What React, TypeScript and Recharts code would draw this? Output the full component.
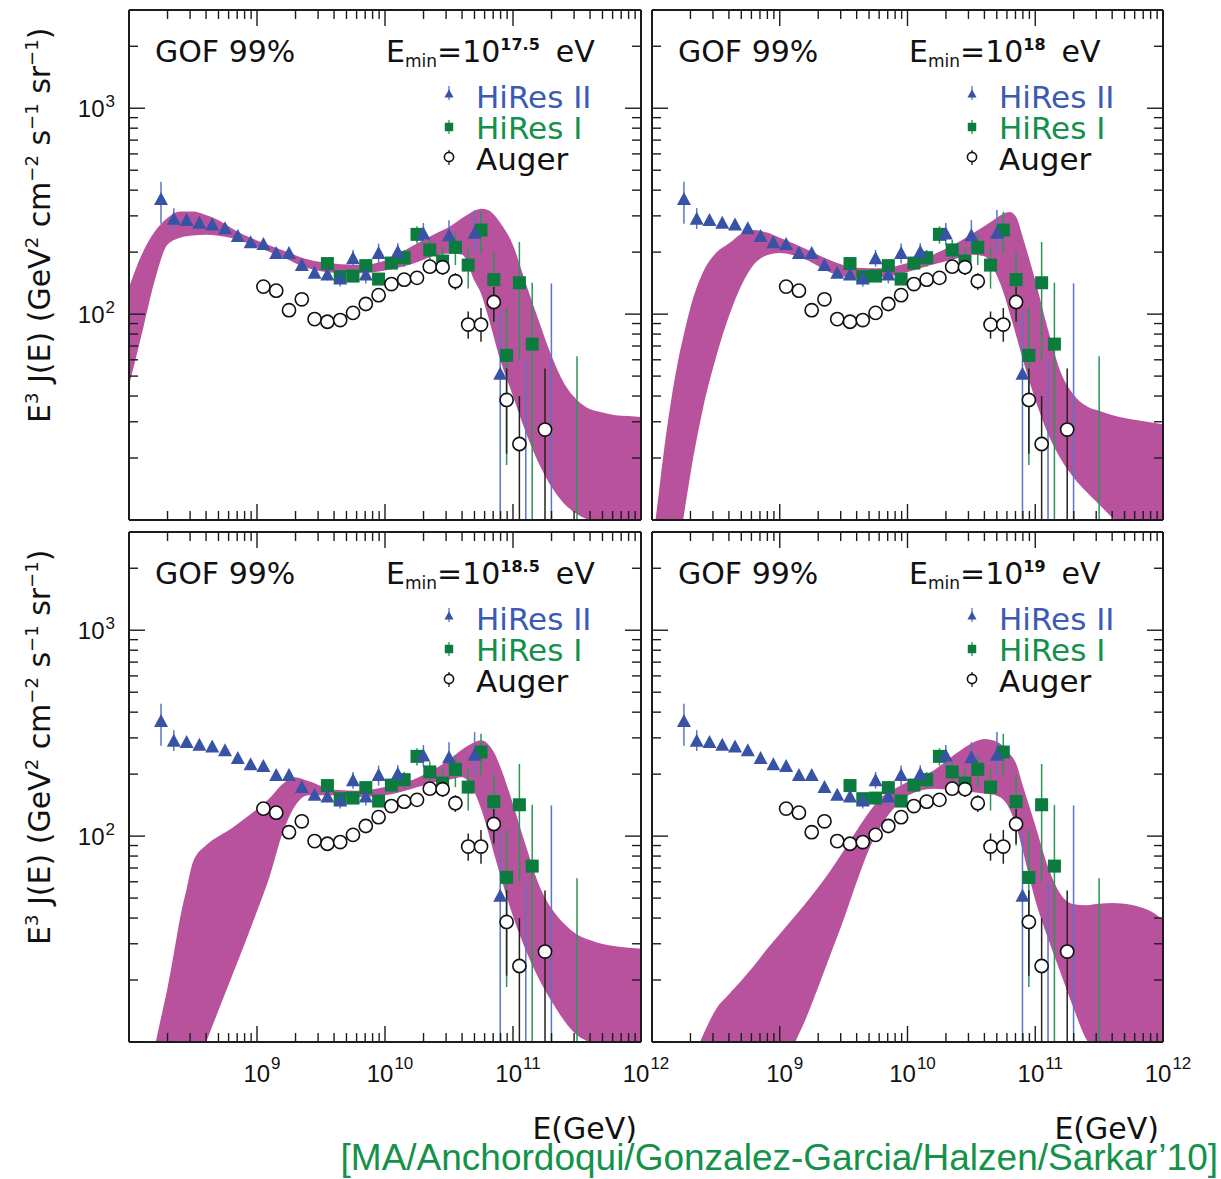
import React from "react";
import { ComposedChart, Area, Scatter, XAxis, YAxis, ErrorBar } from "recharts";

const FONT = "'DejaVu Sans', sans-serif";
const NUM_FONT = "'Liberation Sans', Arial, sans-serif";
const FRAME = "#1c1c1c";
const BAND = "#b8529d";
const BLUE = "#3853a6";
const BLUE_BAR = "#5a74c6";
const BLUE_TEXT = "#3b5bb2";
const GREEN = "#0b7b3e";
const GREEN_BAR = "#2a9656";
const GREEN_TEXT = "#13904a";
const CITE = "#14924a";

// energies are log10(E / GeV); fluxes are E^3 J(E) in GeV^2 cm^-2 s^-1 sr^-1
const hires2Lg = [8.25, 8.35, 8.45, 8.55, 8.65, 8.75, 8.85, 8.95, 9.05, 9.15, 9.25, 9.35, 9.45, 9.55, 9.65, 9.75, 9.85, 9.95, 10.1, 10.3, 10.5, 10.7, 10.9];
const hires2Val = [360, 289, 285, 276, 271, 260, 238, 222, 218, 197, 197, 172, 158, 155, 148, 186, 155, 197, 200, 245, 240, 247, 51];
const hires2Lo = [275, 259, 275, 267, 262, 251, 229, 214, 209, 189, 188, 163, 150, 146, 136, 170, 141, 176, 183, 216, 209, 198, 10];
const hires2Hi = [439, 327, 296, 286, 281, 270, 247, 231, 227, 206, 207, 182, 168, 166, 156, 205, 173, 220, 221, 277, 286, 320, 103];
// bins with the central value below the frame: only the upper bar shows
const hires2BarLg = [11.1, 11.3];
const hires2BarHi = [60, 141];

const hires1Lg = [9.55, 9.65, 9.75, 9.85, 9.95, 10.05, 10.15, 10.25, 10.35, 10.45, 10.55, 10.65, 10.75, 10.85, 10.95, 11.05, 11.15];
const hires1Val = [176, 152, 153, 172, 148, 177, 188, 244, 205, 181, 211, 173, 256, 147, 63, 142, 71.5];
const hires1Lo = [168, 145, 146, 164, 141, 168, 170, 220, 183, 155, 173, 133, 197, 90, 18.5, 60, 10];
const hires1Hi = [185, 160, 161, 181, 156, 187, 205, 267, 229, 212, 247, 212, 314, 200, 107, 224, 142];
const hires1BarLg = [11.5];
const hires1BarHi = [62.5];

const augerLg = [9.05, 9.15, 9.25, 9.35, 9.45, 9.55, 9.65, 9.75, 9.85, 9.95, 10.05, 10.15, 10.25, 10.35, 10.45, 10.55, 10.65, 10.75, 10.85, 10.95, 11.05, 11.25];
const augerVal = [136, 130, 104.5, 118, 94.6, 91.8, 93.6, 101.4, 112, 123.6, 140, 147, 150, 170, 169, 144.5, 89, 89, 114.5, 38.3, 23.4, 27.5];
const augerLo = [133, 127, 102, 115, 92, 89.5, 91, 99, 109, 120, 136, 142, 145, 162, 155, 131, 76, 73.4, 92, 21, 10, 10];
const augerHi = [139, 133, 107, 121, 97, 94, 96, 104, 115, 127, 144, 152, 155, 178, 180, 158, 103, 107, 135.5, 54.5, 40, 54.5];

// 99% GOF bands, one per E_min
const band1Lg = [8.0, 8.1, 8.2, 8.3, 8.4, 8.5, 8.6, 8.7, 8.8, 8.9, 9.0, 9.2, 9.4, 9.6, 9.8, 10.0, 10.2, 10.4, 10.5, 10.6, 10.7, 10.75, 10.8, 10.9, 11.0, 11.1, 11.2, 11.3, 11.4, 11.5, 11.6, 11.7, 11.8, 11.9, 12.0];
const band1Lo = [45, 80, 145, 217, 235, 241, 243, 240, 234, 224, 212, 189, 167, 159, 158, 163, 174, 193, 197, 195, 145, 126, 100, 60, 40, 26.7, 18.9, 14.5, 12, 10.7, 9.9, 9, 8, 7.5, 7];
const band1Hi = [135, 195, 251, 293, 315, 315, 303, 286, 262, 242, 228, 204, 184, 176, 173, 182, 212, 247, 265, 292, 318, 325, 321, 278, 216, 141, 93.5, 63, 46, 38.3, 34.6, 33.3, 32.3, 32, 31.6];

const band2Lg = [8.0, 8.05, 8.1, 8.15, 8.2, 8.25, 8.3, 8.4, 8.5, 8.6, 8.7, 8.8, 8.9, 9.0, 9.2, 9.4, 9.6, 9.8, 10.0, 10.2, 10.4, 10.5, 10.6, 10.7, 10.75, 10.8, 10.85, 10.9, 11.0, 11.1, 11.2, 11.3, 11.4, 11.5, 11.6, 11.7, 11.8, 12.0];
const band2Lo = [1.1, 1.8, 2.8, 4.4, 6.8, 10.6, 16.6, 35, 61.4, 96.8, 138, 175, 193, 198, 184, 159, 150, 151, 160, 174, 187.5, 194, 191, 153.5, 128, 101, 79, 61.1, 38.5, 26.2, 19.8, 16.1, 13.7, 11.9, 10.3, 9, 8, 6.5];
const band2Hi = [7.2, 13, 23.3, 38.2, 57.5, 80, 107, 160, 198, 220, 246, 256, 249, 235, 208, 182, 168, 167, 177, 194.5, 224, 244, 267, 294, 307, 313, 297, 239, 146, 84, 52, 40.6, 35.8, 33.9, 32.4, 31.3, 30.5, 29.2];

const band3Lg = [8.0, 8.1, 8.2, 8.25, 8.3, 8.35, 8.4, 8.45, 8.5, 8.6, 8.7, 8.8, 8.9, 9.0, 9.1, 9.2, 9.3, 9.4, 9.6, 9.8, 10.0, 10.2, 10.4, 10.5, 10.6, 10.7, 10.75, 10.8, 10.85, 10.9, 11.0, 11.1, 11.2, 11.3, 11.4, 11.5, 11.6, 11.7, 11.8, 12.0];
const band3Lo = [1.1, 1.6, 2.3, 2.8, 3.3, 4, 4.8, 5.8, 6.9, 9.9, 14.3, 20.6, 29.6, 43.1, 64, 103.5, 141, 158, 158, 155, 158, 169, 183, 188, 193, 163, 136, 108, 83, 64.7, 40.8, 27.9, 20.4, 15.8, 12.7, 10.8, 9.9, 9, 8, 6.5];
const band3Hi = [2, 4.9, 9.4, 13.1, 18.2, 26.9, 40.3, 55.3, 74.8, 90, 99.8, 109, 121, 135, 153, 179, 193, 185, 168, 166, 173, 186, 214, 235, 263, 286, 292, 282, 256, 218, 143, 90, 58.6, 44.6, 37.5, 33.3, 31.3, 29.9, 29.2, 28.4];

const band4Lg = [8.0, 8.1, 8.2, 8.3, 8.4, 8.5, 8.6, 8.7, 8.8, 8.9, 9.0, 9.1, 9.2, 9.3, 9.4, 9.5, 9.6, 9.7, 9.8, 9.9, 10.0, 10.2, 10.4, 10.5, 10.6, 10.7, 10.8, 10.85, 10.9, 11.0, 11.1, 11.2, 11.3, 11.4, 11.5, 11.6, 11.7, 11.8, 11.9, 12.0];
const band4Lo = [1, 1.2, 1.5, 1.8, 2.2, 2.6, 3.1, 3.7, 4.5, 5.5, 6.9, 9.4, 12.8, 18.4, 26.9, 39.3, 59.3, 86.7, 114, 138, 157, 170, 166, 164, 161, 157, 135, 112, 86, 48.9, 31.8, 21.5, 14.6, 10.3, 9, 8, 7, 6.5, 6, 5.5];
const band4Hi = [2.7, 3.8, 5.4, 7.6, 10.8, 14.4, 17, 19.9, 23.5, 28.3, 33.5, 39.6, 46.9, 56.3, 68.4, 85, 106, 131, 155.5, 170, 183, 208, 257, 282, 296, 287, 251, 225, 178, 113, 70.8, 52, 46.7, 46.2, 46.9, 47.3, 46.9, 45.6, 43.3, 39.3];

const xTicks = [
  1e8, 2e8, 3e8, 4e8, 5e8, 6e8, 7e8, 8e8, 9e8,
  1e9, 2e9, 3e9, 4e9, 5e9, 6e9, 7e9, 8e9, 9e9,
  1e10, 2e10, 3e10, 4e10, 5e10, 6e10, 7e10, 8e10, 9e10,
  1e11, 2e11, 3e11, 4e11, 5e11, 6e11, 7e11, 8e11, 9e11,
  1e12,
];
const xMajor = [1e8, 1e9, 1e10, 1e11, 1e12];
const xLabelExp = ["", "9", "10", "11", "12"];
const yTicks = [10, 20, 30, 40, 50, 60, 70, 80, 90, 100, 200, 300, 400, 500, 600, 700, 800, 900, 1000, 2000];
const yMajor = [10, 100, 1000];
const yLabelExp = ["", "2", "3"];

const X_DOMAIN = [1e8, 1e12];
const Y_DOMAIN = [10, 3000];
const PLOT_H = 510;

const panels = [
  { emin: "17.5", left: 129, top: 10, width: 512, lg: band1Lg, lo: band1Lo, hi: band1Hi, yLabels: true, xLabels: false },
  { emin: "18", left: 652, top: 10, width: 511, lg: band2Lg, lo: band2Lo, hi: band2Hi, yLabels: false, xLabels: false },
  { emin: "18.5", left: 129, top: 532, width: 512, lg: band3Lg, lo: band3Lo, hi: band3Hi, yLabels: true, xLabels: true },
  { emin: "19", left: 652, top: 532, width: 511, lg: band4Lg, lo: band4Lo, hi: band4Hi, yLabels: false, xLabels: true },
];

const toPoints = (lg: number[], val: number[], lo: number[], hi: number[]) =>
  lg.map((g, i) => ({ E: 10 ** g, v: val[i], err: [val[i] - lo[i], hi[i] - val[i]] }));
const toBars = (lg: number[], hi: number[]) =>
  lg.map((g, i) => ({ E: 10 ** g, v: Y_DOMAIN[0], err: [0, hi[i] - Y_DOMAIN[0]] }));

const hires2Pts = toPoints(hires2Lg, hires2Val, hires2Lo, hires2Hi);
const hires2Bars = toBars(hires2BarLg, hires2BarHi);
const hires1Pts = toPoints(hires1Lg, hires1Val, hires1Lo, hires1Hi);
const hires1Bars = toBars(hires1BarLg, hires1BarHi);
const augerPts = toPoints(augerLg, augerVal, augerLo, augerHi);

const Triangle = ({ cx, cy, s = 1 }: any) => (
  <polygon points={`${cx},${cy - 7.5 * s} ${cx - 7 * s},${cy + 5.5 * s} ${cx + 7 * s},${cy + 5.5 * s}`} fill={BLUE} />
);
const Square = ({ cx, cy, s = 1 }: any) => (
  <rect x={cx - 6.5 * s} y={cy - 6.5 * s} width={13 * s} height={13 * s} fill={GREEN} />
);
const Circle = ({ cx, cy, s = 1 }: any) => (
  <circle cx={cx} cy={cy} r={6.6 * s} fill="#fff" stroke="#111" strokeWidth={1.6} />
);
const Nothing = () => <g />;

function BottomTick({ x, y, payload, labels }: any) {
  const k = xMajor.indexOf(payload.value);
  const len = k >= 0 ? 16 : 9;
  return (
    <g>
      <line x1={x} x2={x} y1={y} y2={y - len} stroke={FRAME} strokeWidth={1.4} />
      {labels && k > 0 && (
        <text x={x + 5} y={y + 40} textAnchor="middle" fontSize={24} fontFamily={NUM_FONT} fill="#111">
          10<tspan dx={1} dy={-13} fontSize={17}>{xLabelExp[k]}</tspan>
        </text>
      )}
    </g>
  );
}

function TopTick({ x, y, payload }: any) {
  const len = xMajor.includes(payload.value) ? 16 : 9;
  return <line x1={x} x2={x} y1={y} y2={y + len} stroke={FRAME} strokeWidth={1.4} />;
}

function LeftTick({ x, y, payload, labels }: any) {
  const k = yMajor.indexOf(payload.value);
  const len = k >= 0 ? 16 : 9;
  return (
    <g>
      <line x1={x} x2={x + len} y1={y} y2={y} stroke={FRAME} strokeWidth={1.4} />
      {labels && k > 0 && (
        <text x={x - 14} y={y + 8.5} textAnchor="end" fontSize={24} fontFamily={NUM_FONT} fill="#111">
          10<tspan dx={1} dy={-10} fontSize={17}>{yLabelExp[k]}</tspan>
        </text>
      )}
    </g>
  );
}

function RightTick({ x, y, payload }: any) {
  const len = yMajor.includes(payload.value) ? 16 : 9;
  return <line x1={x} x2={x - len} y1={y} y2={y} stroke={FRAME} strokeWidth={1.4} />;
}

// outer margins; each axis adds 1px of its own, so the frame sits 60px in
const ML = 59;
const MT = 9;
const MR = 39;
const MB = 59;

function Panel({ p }: any) {
  const data = p.lg.map((g: number, i: number) => ({ E: 10 ** g, range: [p.lo[i], p.hi[i]] }));
  const axisLine = { stroke: FRAME, strokeWidth: 2 };
  return (
    <div style={{ position: "absolute", left: p.left - ML - 1, top: p.top - MT - 1 }}>
      <ComposedChart
        width={p.width + ML + MR + 2}
        height={PLOT_H + MT + MB + 2}
        data={data}
        margin={{ top: MT, right: MR, bottom: MB, left: ML }}
      >
        <XAxis xAxisId="b" dataKey="E" type="number" scale="log" domain={X_DOMAIN} allowDataOverflow
          ticks={xTicks} interval={0} height={1} tickSize={0} tickMargin={0} tickLine={false} axisLine={axisLine}
          tick={(t: any) => <BottomTick {...t} labels={p.xLabels} />} />
        <XAxis xAxisId="t" orientation="top" dataKey="E" type="number" scale="log" domain={X_DOMAIN} allowDataOverflow
          ticks={xTicks} interval={0} height={1} tickSize={0} tickMargin={0} tickLine={false} axisLine={axisLine}
          tick={(t: any) => <TopTick {...t} />} />
        <YAxis yAxisId="l" type="number" scale="log" domain={Y_DOMAIN} allowDataOverflow
          ticks={yTicks} interval={0} width={1} tickSize={0} tickMargin={0} tickLine={false} axisLine={axisLine}
          tick={(t: any) => <LeftTick {...t} labels={p.yLabels} />} />
        <YAxis yAxisId="r" orientation="right" type="number" scale="log" domain={Y_DOMAIN} allowDataOverflow
          ticks={yTicks} interval={0} width={1} tickSize={0} tickMargin={0} tickLine={false} axisLine={axisLine}
          tick={(t: any) => <RightTick {...t} />} />
        <Area xAxisId="b" yAxisId="l" dataKey="range" type="monotone" fill={BAND} fillOpacity={1}
          stroke="none" dot={false} activeDot={false} isAnimationActive={false} />
        <Scatter xAxisId="b" yAxisId="l" data={hires2Bars} dataKey="v" shape={Nothing} isAnimationActive={false}>
          <ErrorBar dataKey="err" direction="y" width={0} stroke={BLUE_BAR} strokeWidth={1.5} />
        </Scatter>
        <Scatter xAxisId="b" yAxisId="l" data={hires1Bars} dataKey="v" shape={Nothing} isAnimationActive={false}>
          <ErrorBar dataKey="err" direction="y" width={0} stroke={GREEN_BAR} strokeWidth={1.5} />
        </Scatter>
        <Scatter xAxisId="b" yAxisId="l" data={hires1Pts} dataKey="v" shape={(s: any) => <Square cx={s.cx} cy={s.cy} />} isAnimationActive={false}>
          <ErrorBar dataKey="err" direction="y" width={0} stroke={GREEN_BAR} strokeWidth={1.5} />
        </Scatter>
        <Scatter xAxisId="b" yAxisId="l" data={hires2Pts} dataKey="v" shape={(s: any) => <Triangle cx={s.cx} cy={s.cy} />} isAnimationActive={false}>
          <ErrorBar dataKey="err" direction="y" width={0} stroke={BLUE_BAR} strokeWidth={1.5} />
        </Scatter>
        <Scatter xAxisId="b" yAxisId="l" data={augerPts} dataKey="v" shape={(s: any) => <Circle cx={s.cx} cy={s.cy} />} isAnimationActive={false}>
          <ErrorBar dataKey="err" direction="y" width={0} stroke="#222" strokeWidth={1.5} />
        </Scatter>
      </ComposedChart>
    </div>
  );
}

function PanelText({ p }: any) {
  const L = p.left;
  const T = p.top;
  const mx = L + 320;
  return (
    <g fontFamily={FONT}>
      <text x={L + 26} y={T + 52} fontSize={30} fill="#111">GOF 99%</text>
      <text x={L + 257} y={T + 52} fontSize={30} fill="#111">
        E<tspan fontSize={17} dy={5}>min</tspan>
        <tspan dy={-5}>=10</tspan>
        <tspan fontSize={16} fontWeight="bold" dy={-12}>{p.emin}</tspan>
        <tspan dx={16} dy={12}>eV</tspan>
      </text>
      <line x1={mx} x2={mx} y1={T + 76} y2={T + 90} stroke={BLUE_BAR} strokeWidth={1.3} />
      <Triangle cx={mx} cy={T + 84} s={0.65} />
      <text x={L + 347} y={T + 98} fontSize={31} fill={BLUE_TEXT}>HiRes II</text>
      <line x1={mx} x2={mx} y1={T + 110} y2={T + 124} stroke={GREEN_BAR} strokeWidth={1.3} />
      <Square cx={mx} cy={T + 117} s={0.65} />
      <text x={L + 347} y={T + 129} fontSize={31} fill={GREEN_TEXT}>HiRes I</text>
      <line x1={mx} x2={mx} y1={T + 140} y2={T + 155} stroke="#222" strokeWidth={1.3} />
      <Circle cx={mx} cy={T + 147} s={0.7} />
      <text x={L + 347} y={T + 160} fontSize={31} fill="#111">Auger</text>
    </g>
  );
}

function YTitle({ y }: { y: number }) {
  return (
    <text transform={`translate(50,${y}) rotate(-90)`} fontSize={30} fontFamily={FONT} fill="#111">
      E<tspan dy={-12} fontSize={18}>3</tspan>
      <tspan dy={12}> J(E) (GeV</tspan>
      <tspan dy={-12} fontSize={18}>2</tspan>
      <tspan dy={12}> cm</tspan>
      <tspan dy={-12} fontSize={18}>−2</tspan>
      <tspan dy={12}> s</tspan>
      <tspan dy={-12} fontSize={18}>−1</tspan>
      <tspan dy={12}> sr</tspan>
      <tspan dy={-12} fontSize={18}>−1</tspan>
      <tspan dy={12}>)</tspan>
    </text>
  );
}

export default function App() {
  return (
    <div style={{ position: "absolute", left: 0, top: 0, width: 1221, height: 1179, background: "#fff", overflow: "hidden" }}>
      {panels.map((p, i) => (
        <Panel key={i} p={p} />
      ))}
      <svg width={1221} height={1179} style={{ position: "absolute", left: 0, top: 0, pointerEvents: "none" }}>
        {panels.map((p, i) => (
          <PanelText key={i} p={p} />
        ))}
        <YTitle y={423} />
        <YTitle y={945} />
        <text x={637} y={1139} textAnchor="end" fontSize={30} fontFamily={FONT} fill="#111">E(GeV)</text>
        <text x={1159} y={1139} textAnchor="end" fontSize={30} fontFamily={FONT} fill="#111">E(GeV)</text>
        <text x={1218} y={1170} textAnchor="end" fontSize={37} fontFamily={NUM_FONT} fill={CITE}>
          [MA/Anchordoqui/Gonzalez-Garcia/Halzen/Sarkar’10]
        </text>
      </svg>
    </div>
  );
}
